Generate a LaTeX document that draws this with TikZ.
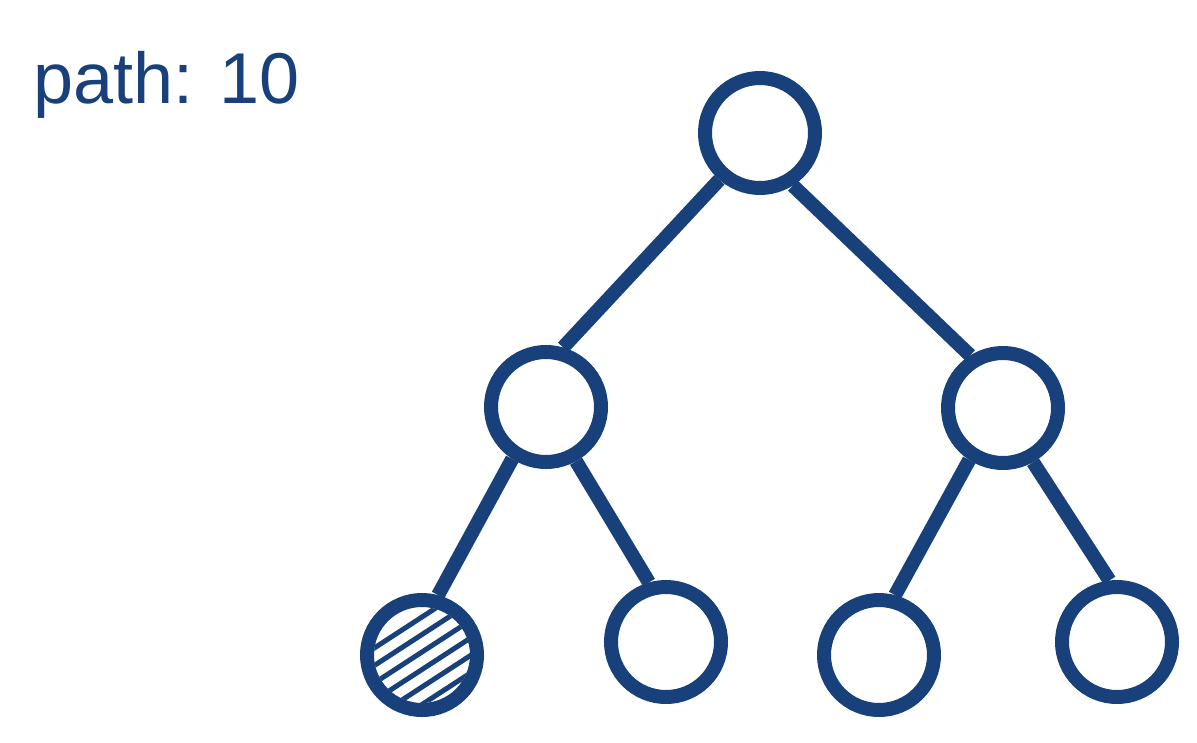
\documentclass[tikz,border=0pt]{standalone}
\usepackage{fontspec}
\setmainfont{Liberation Sans}
\definecolor{navy}{RGB}{24,64,122}
\begin{document}
\begin{tikzpicture}[x=1pt,y=-1pt,
  treenode/.style={circle,draw=navy,line width=14pt,fill=white,minimum size=110pt,inner sep=0pt},
  edge/.style={draw=navy,line width=14pt},
  hatch/.style={draw=navy,line width=5pt}]
\useasboundingbox (0,0) rectangle (1197,742);
\node[anchor=base west,text=navy,font=\fontsize{72}{82}\selectfont,inner sep=0pt] (title) at (33,103) {path: 10};
\node[treenode] (r) at (760,133) {};
\node[treenode] (a) at (546,407) {};
\node[treenode] (b) at (1003,408) {};
\node[treenode] (l1) at (422,655) {};
\node[treenode] (l2) at (666,642) {};
\node[treenode] (l3) at (879,655) {};
\node[treenode] (l4) at (1117,642) {};
\draw[edge] (r.229) -- (a.74);
\draw[edge] (r.302) -- (b.122);
\draw[edge] (a.237) -- (l1.75);
\draw[edge] (a.299) -- (l2.106);
\draw[edge] (b.237) -- (l3.75);
\draw[edge] (b.299) -- (l4.97);
\begin{scope}
\clip (l1.center) circle (48);
\foreach \k in {-2,...,3} {
  \draw[hatch] ([shift={(-70,{-3+17.5*\k+45.5})}]l1.center) -- ([shift={(70,{-3+17.5*\k-45.5})}]l1.center);
}
\end{scope}
\end{tikzpicture}
\end{document}
